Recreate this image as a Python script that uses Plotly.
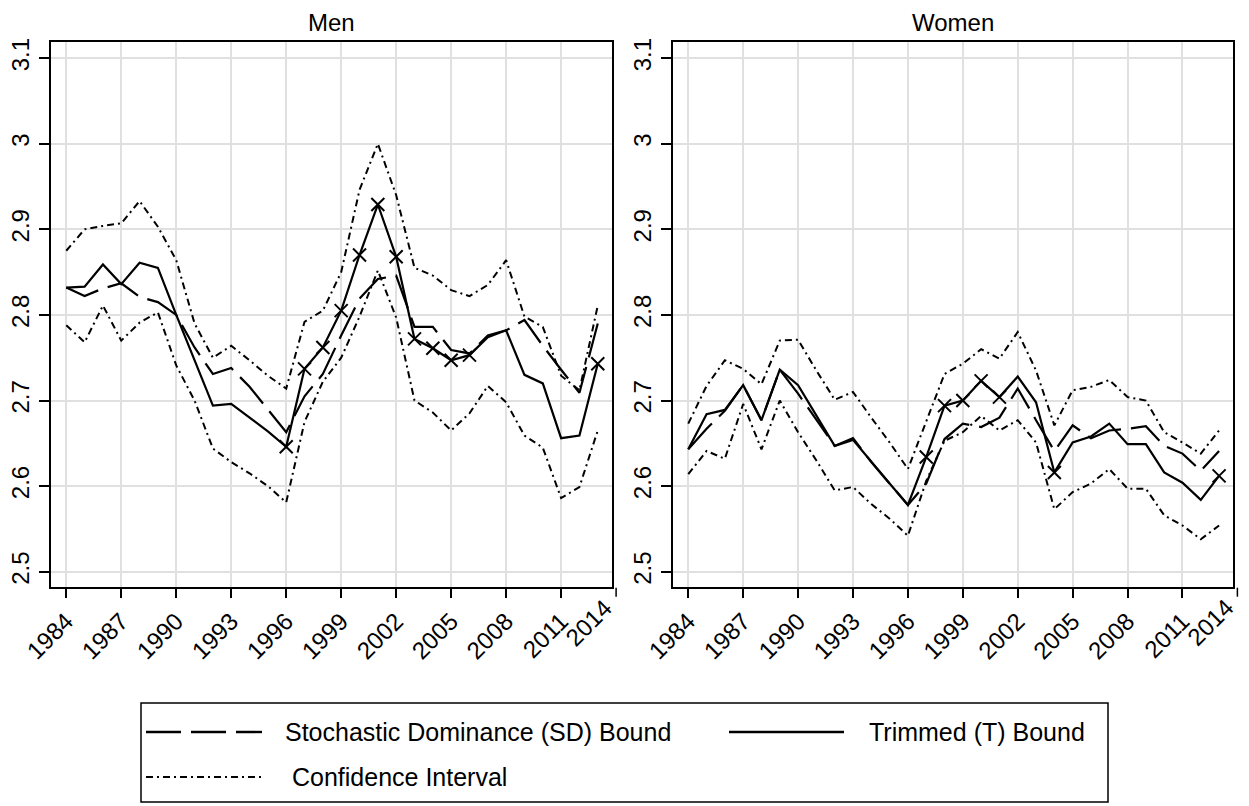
import plotly.graph_objects as go

# ---------------- data ----------------
years = list(range(1984, 2014))
tick_years = list(range(1984, 2015, 3))
y_ticks = [2.5, 2.6, 2.7, 2.8, 2.9, 3.0, 3.1]
y_ticklabels = ["2.5", "2.6", "2.7", "2.8", "2.9", "3", "3.1"]
panel_titles = ["Men", "Women"]
legend_labels = ["Stochastic Dominance (SD) Bound", "Trimmed (T) Bound", "Confidence Interval"]

men_t = [2.832, 2.833, 2.859, 2.836, 2.861, 2.855, 2.800, 2.748, 2.694, 2.696,
         2.680, 2.664, 2.646, 2.737, 2.762, 2.805, 2.870, 2.929, 2.868, 2.772,
         2.761, 2.747, 2.753, 2.774, 2.782, 2.730, 2.720, 2.656, 2.659, 2.743]
men_sd = [2.832, 2.822, 2.831, 2.837, 2.821, 2.815, 2.800, 2.762, 2.731, 2.738,
          2.716, 2.690, 2.663, 2.705, 2.731, 2.776, 2.819, 2.842, 2.846, 2.786,
          2.786, 2.759, 2.755, 2.776, 2.782, 2.794, 2.764, 2.736, 2.709, 2.790]
men_ci_hi = [2.875, 2.900, 2.904, 2.907, 2.933, 2.903, 2.864, 2.790, 2.750, 2.764,
             2.747, 2.729, 2.714, 2.792, 2.805, 2.850, 2.946, 3.000, 2.940, 2.855,
             2.846, 2.829, 2.822, 2.835, 2.864, 2.798, 2.786, 2.729, 2.712, 2.811]
men_ci_lo = [2.788, 2.768, 2.811, 2.770, 2.791, 2.803, 2.741, 2.700, 2.644, 2.628,
             2.615, 2.600, 2.581, 2.675, 2.722, 2.750, 2.798, 2.852, 2.797, 2.700,
             2.686, 2.665, 2.685, 2.717, 2.698, 2.659, 2.645, 2.586, 2.599, 2.665]
men_marked = [1996, 1997, 1998, 1999, 2000, 2001, 2002, 2003, 2004, 2005, 2006, 2013]

women_t = [2.643, 2.684, 2.689, 2.718, 2.677, 2.736, 2.718, 2.682, 2.647, 2.654,
           2.628, 2.603, 2.578, 2.634, 2.694, 2.700, 2.723, 2.704, 2.728, 2.698,
           2.616, 2.651, 2.658, 2.673, 2.649, 2.649, 2.616, 2.604, 2.584, 2.612]
women_sd = [2.643, 2.667, 2.688, 2.718, 2.677, 2.736, 2.708, 2.677, 2.647, 2.656,
            2.628, 2.603, 2.578, 2.603, 2.655, 2.673, 2.669, 2.680, 2.714, 2.677,
            2.641, 2.671, 2.656, 2.665, 2.667, 2.670, 2.647, 2.638, 2.618, 2.641]
women_ci_hi = [2.673, 2.717, 2.747, 2.737, 2.719, 2.770, 2.771, 2.735, 2.701, 2.710,
               2.680, 2.651, 2.620, 2.676, 2.731, 2.743, 2.760, 2.749, 2.780, 2.735,
               2.671, 2.712, 2.716, 2.724, 2.704, 2.700, 2.663, 2.651, 2.638, 2.665]
women_ci_lo = [2.614, 2.641, 2.632, 2.696, 2.643, 2.700, 2.663, 2.630, 2.595, 2.599,
               2.579, 2.562, 2.542, 2.606, 2.653, 2.663, 2.682, 2.665, 2.677, 2.651,
               2.573, 2.593, 2.603, 2.620, 2.597, 2.597, 2.566, 2.554, 2.538, 2.554]
women_marked = [1997, 1998, 1999, 2000, 2001, 2004, 2013]

# ---------------- styling ----------------
W, H = 1249, 806
FONT = "Liberation Sans, Arial, Helvetica, sans-serif"
SD_DASH = "35px,10px"
CI_DASH = "7px,4px,2px,4px"
GRID = "#e0e0e0"
TICKFONT = 24
XR = [1983.15, 2013.76]
YR = [2.4825, 3.1185]

def px_x(p):
    return p / W

def px_y(p):
    return (H - p) / H

panels = [
    dict(t=men_t, sd=men_sd, hi=men_ci_hi, lo=men_ci_lo, marked=men_marked,
         left=50.7, right=611.7),
    dict(t=women_t, sd=women_sd, hi=women_ci_hi, lo=women_ci_lo, marked=women_marked,
         left=672.7, right=1233.0),
]
BOTTOM, TOP = 586.7, 42.3
ydom = [px_y(BOTTOM), px_y(TOP)]

fig = go.Figure()
layout = dict(
    width=W, height=H, margin=dict(l=0, r=0, t=0, b=0, pad=0),
    paper_bgcolor="white", plot_bgcolor="white",
    showlegend=False, font=dict(family=FONT, color="black", size=TICKFONT),
)

annotations = []
shapes = []
for i, p in enumerate(panels):
    n = i + 1
    xa = "x" if n == 1 else "x2"
    ya = "y" if n == 1 else "y2"
    common = dict(xaxis=xa, yaxis=ya, showlegend=False, hoverinfo="skip")
    for ci in (p["hi"], p["lo"]):
        fig.add_trace(go.Scatter(x=years, y=ci, mode="lines",
                                 line=dict(color="black", width=2.0, dash=CI_DASH), **common))
    fig.add_trace(go.Scatter(x=years, y=p["sd"], mode="lines",
                             line=dict(color="black", width=2.2, dash=SD_DASH), **common))
    fig.add_trace(go.Scatter(x=years, y=p["t"], mode="lines",
                             line=dict(color="black", width=2.2), **common))
    mk_y = [p["t"][years.index(yr)] for yr in p["marked"]]
    fig.add_trace(go.Scatter(x=p["marked"], y=mk_y, mode="markers",
                             marker=dict(symbol="x-thin", size=13, color="black",
                                         line=dict(color="black", width=2)), **common))

    dom = [px_x(p["left"]), px_x(p["right"])]
    key = "xaxis" if n == 1 else "xaxis2"
    in_range = [v for v in tick_years if XR[0] <= v <= XR[1]]
    layout[key] = dict(domain=dom, range=XR, anchor=ya, tickvals=in_range,
                       ticktext=[str(v) for v in in_range], tickangle=-45,
                       ticks="outside", ticklen=9, tickwidth=1.5, tickcolor="black",
                       showgrid=True, gridcolor=GRID, gridwidth=2, zeroline=False,
                       showline=True, linecolor="black", linewidth=2, mirror=True,
                       automargin=False,
                       tickfont=dict(size=TICKFONT, family=FONT, color="black"))
    ykey = "yaxis" if n == 1 else "yaxis2"
    layout[ykey] = dict(domain=ydom, range=YR, anchor=xa, tickvals=y_ticks,
                        ticktext=y_ticklabels, tickangle=-90, ticks="outside",
                        ticklen=10, tickwidth=1.5, tickcolor="black",
                        showgrid=True, gridcolor=GRID, gridwidth=2, zeroline=False,
                        showline=True, linecolor="black", linewidth=2, mirror=True,
                        automargin=False,
                        tickfont=dict(size=TICKFONT, family=FONT, color="black"))
    # ticks that fall just outside the plotted x range (e.g. 2014)
    per_year = (p["right"] - p["left"]) / (XR[1] - XR[0])
    for v in tick_years:
        if v > XR[1]:
            xp = p["left"] + (v - XR[0]) * per_year
            shapes.append(dict(type="line", xref="paper", yref="paper",
                               x0=px_x(xp), x1=px_x(xp), y0=px_y(BOTTOM + 1),
                               y1=px_y(BOTTOM + 10),
                               line=dict(color="black", width=1.5)))
            annotations.append(dict(text=str(v), xref="paper", yref="paper",
                                    x=px_x(xp + 4), y=px_y(BOTTOM + 5),
                                    xanchor="right", yanchor="top", textangle=-45,
                                    showarrow=False,
                                    font=dict(size=TICKFONT, family=FONT, color="black")))
    annotations.append(dict(text=panel_titles[i], xref="paper", yref="paper",
                            x=(dom[0] + dom[1]) / 2, y=px_y(22), xanchor="center",
                            yanchor="middle", showarrow=False,
                            font=dict(size=24, family=FONT, color="black")))

# ---------------- manual legend ----------------
shapes.append(dict(type="rect", xref="paper", yref="paper",
                   x0=px_x(141), x1=px_x(1108), y0=px_y(802), y1=px_y(703),
                   line=dict(color="black", width=1.5), fillcolor="rgba(0,0,0,0)"))
legend_items = [
    (legend_labels[0], 146, 262, 732, 282.7, dict(color="black", width=2.4, dash=SD_DASH)),
    (legend_labels[1], 729, 844, 732, 867, dict(color="black", width=2.4)),
    (legend_labels[2], 146, 262, 777, 290, dict(color="black", width=2.0, dash=CI_DASH)),
]
for label, x0, x1, yy, tx, ln in legend_items:
    shapes.append(dict(type="line", xref="paper", yref="paper",
                       x0=px_x(x0), x1=px_x(x1), y0=px_y(yy), y1=px_y(yy), line=ln))
    annotations.append(dict(text=label, xref="paper", yref="paper", x=px_x(tx),
                            y=px_y(yy), xanchor="left", yanchor="middle",
                            showarrow=False,
                            font=dict(size=25, family=FONT, color="black")))

layout["annotations"] = annotations
layout["shapes"] = shapes
fig.update_layout(**layout)
fig.write_html("out.html")
